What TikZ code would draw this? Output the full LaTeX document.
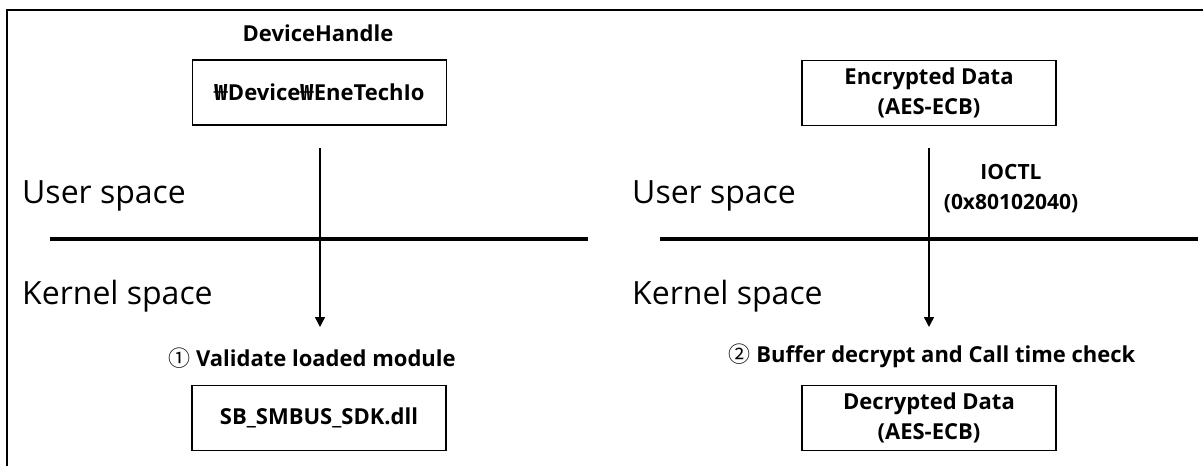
\documentclass[tikz,border=0pt]{standalone}
\usepackage{fontspec}
\setmainfont{Open Sans}
\newfontfamily\cjk{Noto Sans CJK KR}
\usetikzlibrary{arrows.meta}
\tikzset{
  bx/.style={draw, line width=1.8pt, minimum width=254pt, minimum height=65pt, inner sep=0pt, align=center, font=\bfseries\fontsize{22}{30}\selectfont},
  lbl/.style={inner sep=0pt, align=center, font=\bfseries\fontsize{22}{30}\selectfont},
  spc/.style={inner sep=0pt, anchor=base west, font=\fontsize{32}{36}\selectfont},
  sep/.style={line width=4pt},
  flow/.style={line width=1.5pt, -{Triangle[length=10pt,width=10pt]}},
  frame/.style={line width=2pt}
}
\begin{document}
\begin{tikzpicture}[x=1pt,y=-1pt]
\useasboundingbox (0,0) rectangle (1203,466);
\draw[frame] (1203,10) -- (6.5,10) -- (6.5,466);

% left column
\node[lbl] (dh) at (318,33) {DeviceHandle};
\node[bx] (b1) at (319.5,92.5) {{\cjk ₩}Device{\cjk ₩}EneTechIo};
\node[lbl] (s1) at (312,358) {{\cjk\mdseries ①} Validate loaded module};
\node[bx] (b2) at (319,418) {SB\_SMBUS\_SDK.dll};
\coordinate (a1s) at (320,148);
\coordinate (a1e) at (320,327);
\draw[flow] (a1s) -- (a1e);

\node[spc] (us1) at (22,203) {User space};
\node[spc] (ks1) at (22,304) {Kernel space};
\coordinate (l1a) at (50,239);
\coordinate (l1b) at (588,239);
\draw[sep] (l1a) -- (l1b);

% right column
\node[bx] (b3) at (929,93) {Encrypted Data\\(AES-ECB)};
\node[lbl, font=\bfseries\fontsize{21}{30}\selectfont] (io) at (1011,189) {IOCTL\\(0x80102040)};
\node[lbl] (s2) at (932,356) {{\cjk\mdseries ②} Buffer decrypt and Call time check};
\node[bx] (b4) at (929,418) {Decrypted Data\\(AES-ECB)};
\coordinate (a2s) at (929,148);
\coordinate (a2e) at (929,327);
\draw[flow] (a2s) -- (a2e);

\node[spc] (us2) at (632,203) {User space};
\node[spc] (ks2) at (632,304) {Kernel space};
\coordinate (l2a) at (660,239);
\coordinate (l2b) at (1198,239);
\draw[sep] (l2a) -- (l2b);
\end{tikzpicture}
\end{document}
